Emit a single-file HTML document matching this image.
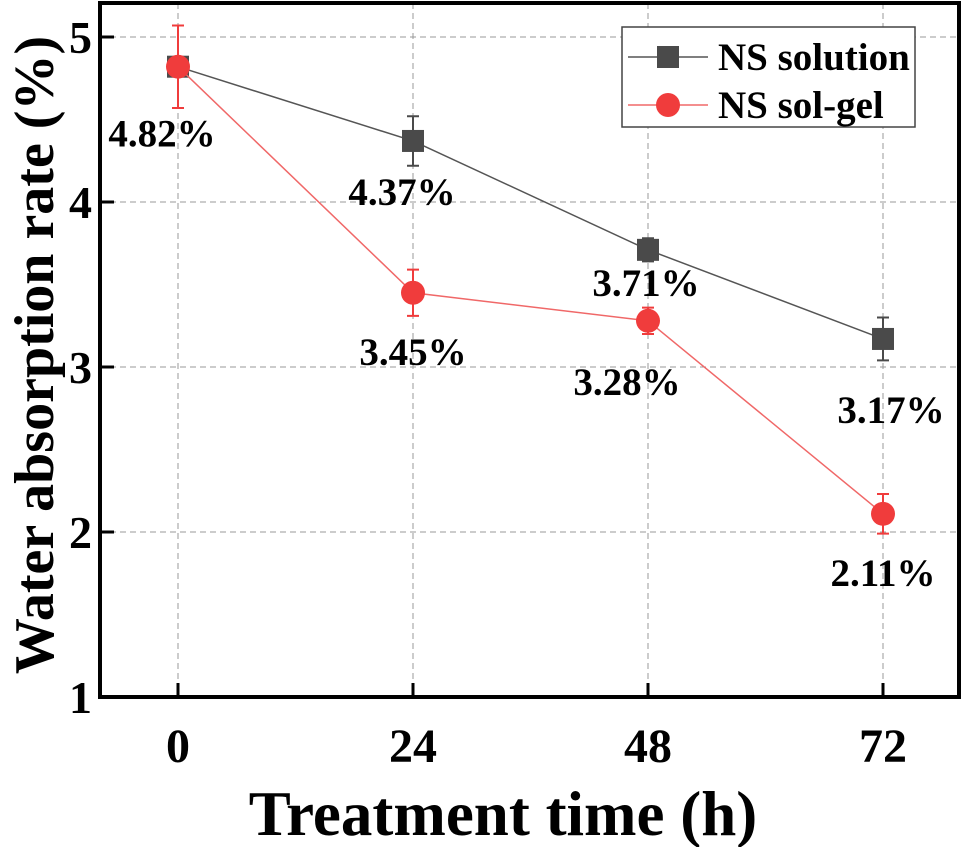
<!DOCTYPE html>
<html><head><meta charset="utf-8"><style>
body{margin:0;background:#fff;}
svg text{font-family:"Liberation Serif",serif;font-weight:bold;fill:#000;}
</style></head><body>
<svg width="965" height="847" viewBox="0 0 965 847">
<g id="grid"></g>
<g id="series"></g>
<rect x="100" y="3" width="859" height="694" fill="none" stroke="#000" stroke-width="4"/>
<g id="ticks"></g>
<g>
<rect x="622" y="27" width="293" height="100" fill="#fff" stroke="#444" stroke-width="1.5"/>
<line x1="628" y1="57" x2="708" y2="57" stroke="#555" stroke-width="1.5"/>
<rect x="657" y="46" width="22" height="22" fill="#4a4a4a"/>
<text x="718" y="70" font-size="39">NS solution</text>
<line x1="628" y1="105" x2="708" y2="105" stroke="#f06868" stroke-width="1.5"/>
<circle cx="668" cy="105" r="12" fill="#f03c3c"/>
<text x="718" y="118" font-size="39">NS sol-gel</text>
</g>
<text transform="translate(53,355) rotate(-90)" text-anchor="middle" font-size="56">Water absorption rate (%)</text>
<text x="503" y="835" text-anchor="middle" font-size="63">Treatment time (h)</text>
</svg>
<script>
const xCats=[0,24,48,72];
const yTicks=[1,2,3,4,5];
const solution=[4.82,4.37,3.71,3.17];
const solutionErr=[0.03,0.15,0.07,0.13];
const solgel=[4.82,3.45,3.28,2.11];
const solgelErr=[0.25,0.14,0.08,0.12];
const solutionLabels=["","4.37%","3.71%","3.17%"];
const solgelLabels=["4.82%","3.45%","3.28%","2.11%"];
const solutionLabelDx=[0,-11,-2,8];
const solgelLabelDx=[-16,0,-21,0];
const solutionLabelDy=[0,64,46,84];
const solgelLabelDy=[80,72,74,72];
const NS="http://www.w3.org/2000/svg";
const X=v=>178+(v/24)*235;
const Y=v=>697-(v-1)*165;
function mk(tag,attrs,parent){const e=document.createElementNS(NS,tag);for(const k in attrs)e.setAttribute(k,attrs[k]);parent.appendChild(e);return e;}
const grid=document.getElementById('grid'),ticks=document.getElementById('ticks'),ser=document.getElementById('series');
xCats.forEach(c=>{
 let l=mk('line',{x1:X(c),x2:X(c),y1:3,y2:697,stroke:'#999','stroke-dasharray':'6,4','stroke-width':1},grid);
 
 let t=mk('line',{x1:X(c),x2:X(c),y1:697,y2:683,stroke:'#000','stroke-width':3},ticks);
 
 let tx=mk('text',{x:X(c),y:762,'text-anchor':'middle','font-size':48},ticks);tx.textContent=c;
 
});
yTicks.forEach(v=>{
 if(v>1){let l=mk('line',{x1:100,x2:959,y1:Y(v),y2:Y(v),stroke:'#999','stroke-dasharray':'6,4','stroke-width':1},grid);
 
 let t=mk('line',{x1:100,x2:114,y1:Y(v),y2:Y(v),stroke:'#000','stroke-width':3},ticks);
 }
 let tx=mk('text',{x:92,y:Y(v)+16,'text-anchor':'end','font-size':46},ticks);tx.textContent=v;
 
});
function series(vals,errs,col,lineCol,shape,labels,dxs,dys,name){
 const pl=mk('polyline',{points:vals.map((v,i)=>X(xCats[i])+','+Y(v)).join(' '),fill:'none',stroke:lineCol,'stroke-width':1.5},ser);
 
 vals.forEach((v,i)=>{
  const x=X(xCats[i]);
  const e=mk('path',{d:`M${x},${Y(v+errs[i])}V${Y(v-errs[i])}M${x-6},${Y(v+errs[i])}H${x+6}M${x-6},${Y(v-errs[i])}H${x+6}`,stroke:col,'stroke-width':2,fill:'none'},ser);
  
  let m;
  if(shape==='sq')m=mk('rect',{x:x-11,y:Y(v)-11,width:22,height:22,fill:col},ser);
  else m=mk('circle',{cx:x,cy:Y(v),r:12,fill:col},ser);
  
  if(labels[i]){const t=mk('text',{x:x+dxs[i],y:Y(v)+dys[i],'text-anchor':'middle','font-size':39},ser);t.textContent=labels[i];
  }
 });
}
series(solution,solutionErr,'#4a4a4a','#555','sq',solutionLabels,solutionLabelDx,solutionLabelDy,'solution');
series(solgel,solgelErr,'#f03c3c','#f06868','ci',solgelLabels,solgelLabelDx,solgelLabelDy,'solgel');
</script>
</body></html>
